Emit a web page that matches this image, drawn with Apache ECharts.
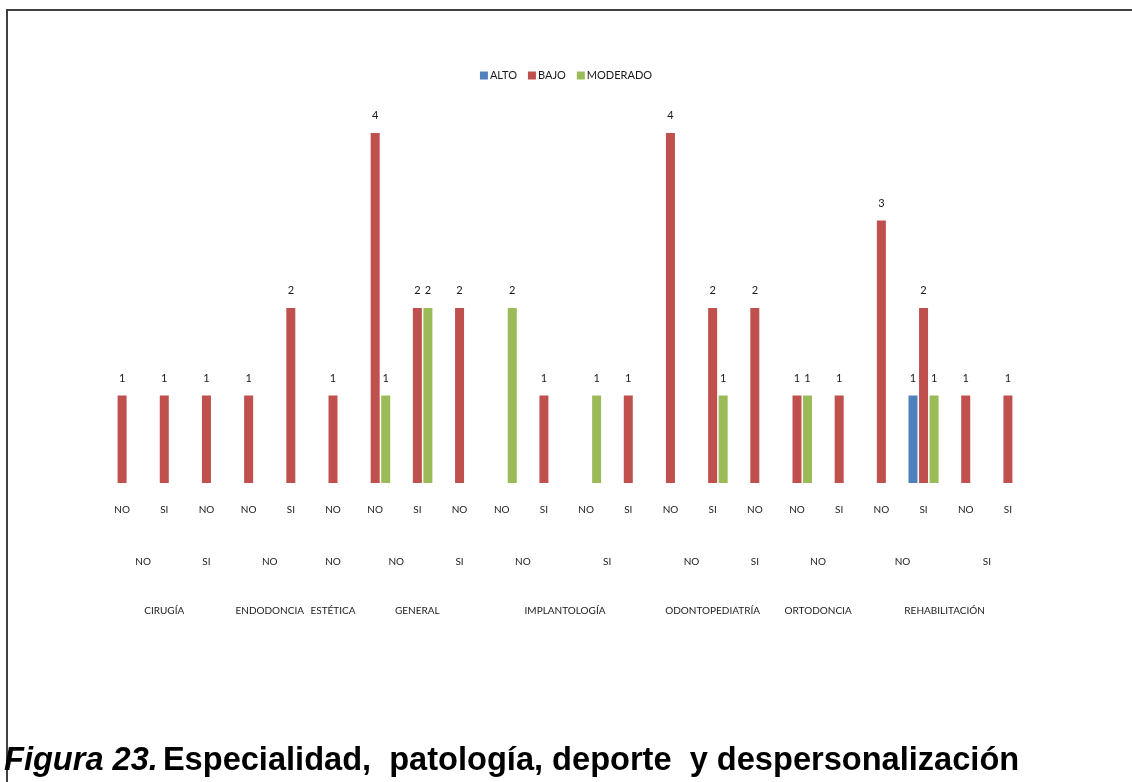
<!DOCTYPE html>
<html>
<head>
<meta charset="utf-8">
<script src="https://cdn.jsdelivr.net/npm/echarts@6/dist/echarts.min.js"></script>
<style>
  html, body { margin: 0; padding: 0; background: #fff; }
  #main { width: 1132px; height: 782px; }
</style>
</head>
<body>
<div id="main"></div>
<script>
// innermost level: deporte (NO / SI)
const categories = ['NO', 'SI', 'NO', 'NO', 'SI', 'NO', 'NO', 'SI', 'NO', 'NO', 'SI',
  'NO', 'SI', 'NO', 'SI', 'NO', 'NO', 'SI', 'NO', 'SI', 'NO', 'SI'];

// middle level: patología, with how many categories each one spans
const patologia = ['NO', 'SI', 'NO', 'NO', 'NO', 'SI', 'NO', 'SI', 'NO', 'SI', 'NO', 'NO', 'SI'];
const patologiaSpan = [2, 1, 2, 1, 2, 1, 2, 2, 2, 1, 2, 2, 2];

// outer level: especialidad
const especialidad = ['CIRUGÍA', 'ENDODONCIA', 'ESTÉTICA', 'GENERAL', 'IMPLANTOLOGÍA',
  'ODONTOPEDIATRÍA', 'ORTODONCIA', 'REHABILITACIÓN'];
const especialidadSpan = [3, 2, 1, 3, 4, 3, 2, 4];

const alto = [null, null, null, null, null, null, null, null, null, null, null,
  null, null, null, null, null, null, null, null, 1, null, null];
const bajo = [1, 1, 1, 1, 2, 1, 4, 2, 2, null, 1,
  null, 1, 4, 2, 2, 1, 1, 3, 2, 1, 1];
const moderado = [null, null, null, null, null, null, 1, 2, null, 2, null,
  1, null, null, 1, null, 1, null, null, 1, null, null];

// label lookup keyed by the centre of each span (in category units)
function spanCentres(names, spans) {
  const map = {};
  let start = 0;
  names.forEach((n, i) => {
    map[(start + (spans[i] - 1) / 2).toFixed(1)] = n;
    start += spans[i];
  });
  return map;
}
const patologiaAt = spanCentres(patologia, patologiaSpan);
const especialidadAt = spanCentres(especialidad, especialidadSpan);

const font = 'Lato';
const labelOption = {
  show: true,
  position: 'top',
  distance: 12,
  fontSize: 11,
  fontFamily: font,
  color: '#1a1a1a',
};

function levelAxis(lookup, margin) {
  return {
    type: 'value',
    position: 'bottom',
    min: -0.5,
    max: categories.length - 0.5,
    interval: 0.5,
    axisLine: { show: false },
    axisTick: { show: false },
    splitLine: { show: false },
    axisLabel: {
      margin: margin,
      fontSize: 10,
      fontFamily: font,
      color: '#1a1a1a',
      formatter: (v) => lookup[v.toFixed(1)] || '',
    },
  };
}

const myChart = echarts.init(document.getElementById('main'));

myChart.setOption({
  color: ['#4F81BD', '#C0504D', '#9BBB59'],
  animation: false,
  title: {
    text: '{a|Figura 23.} {b|Especialidad,  patología, deporte  y despersonalización}',
    left: -1,
    top: 740,
    textStyle: {
      rich: {
        a: { fontSize: 32.6, fontWeight: 'bold', fontStyle: 'italic', fontFamily: 'Liberation Sans', color: '#000' },
        b: { fontSize: 32.6, fontWeight: 'bold', fontFamily: 'Liberation Sans', color: '#000' },
      },
    },
  },
  legend: {
    top: 65,
    left: 'center',
    icon: 'rect',
    itemWidth: 8,
    itemHeight: 8,
    itemGap: 11,
    textStyle: { fontSize: 11, fontFamily: font, color: '#1a1a1a', padding: [0, 0, 0, -3] },
  },
  grid: { left: 101, right: 103, top: 133, bottom: 299 },
  xAxis: [
    {
      type: 'category',
      data: categories,
      axisLine: { show: false },
      axisTick: { show: false },
      axisLabel: { margin: 22, fontSize: 10, fontFamily: font, color: '#1a1a1a', interval: 0 },
    },
    levelAxis(patologiaAt, 74),
    levelAxis(especialidadAt, 123),
  ],
  yAxis: { type: 'value', min: 0, max: 4, show: false },
  graphic: [
    {
      type: 'polyline',
      shape: { points: [[7, 782], [7, 10], [1132, 10]] },
      style: { stroke: '#404040', lineWidth: 2, fill: null },
    },
  ],
  series: [
    { name: 'ALTO', type: 'bar', barWidth: 9, barGap: '17%', label: labelOption, data: alto },
    { name: 'BAJO', type: 'bar', barWidth: 9, barGap: '17%', label: labelOption, data: bajo },
    { name: 'MODERADO', type: 'bar', barWidth: 9, barGap: '17%', label: labelOption, data: moderado },
  ],
});
</script>
</body>
</html>
